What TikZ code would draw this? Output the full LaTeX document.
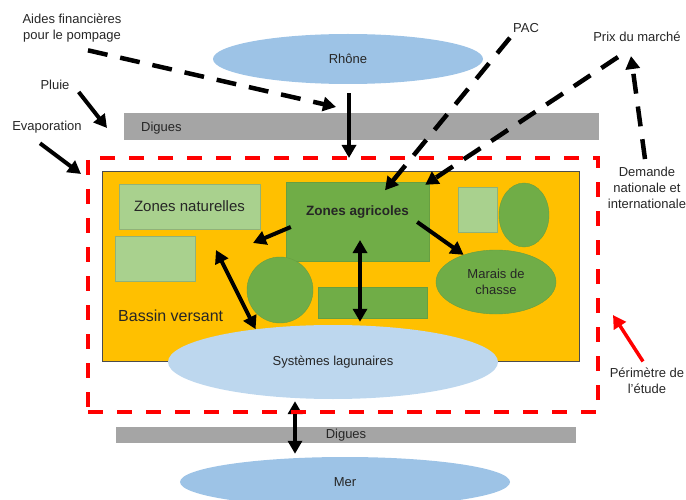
\documentclass[tikz,border=0pt]{standalone}
\usepackage{fontspec}
\setmainfont{Liberation Sans}
\usetikzlibrary{arrows.meta,shapes.geometric}

\definecolor{bleuEau}{HTML}{9DC3E6}
\definecolor{bleuLagune}{HTML}{BDD7EE}
\definecolor{grisDigue}{HTML}{A5A5A5}
\definecolor{jauneBassin}{HTML}{FFC000}
\definecolor{vertClair}{HTML}{A9D18E}
\definecolor{vertFonce}{HTML}{70AD47}
\definecolor{texte}{HTML}{262626}

\begin{document}
\begin{tikzpicture}[x=1pt,y=-1pt,
    font=\fontsize{13}{16}\selectfont,
    every node/.style={text=texte,inner sep=0pt,align=center},
    eau/.style={ellipse,fill=bleuEau},
    digue/.style={rectangle,fill=grisDigue},
    zone/.style={rectangle,fill=vertClair,draw=vertClair!85!black,thin},
    culture/.style={fill=vertFonce,draw=vertFonce!92!black,thin},
    fleche/.style={line width=4pt,-{Triangle[length=13pt,width=14pt]}},
    flecheDouble/.style={line width=4pt,{Triangle[length=13pt,width=14pt]}-{Triangle[length=13pt,width=14pt]}},
    tirets/.style={fleche,line width=4.5pt,dash pattern=on 20pt off 13pt},
    ]
    \useasboundingbox (0,0) rectangle (686,500);

    \node[digue,minimum width=475,minimum height=27] (digueHaut) at (361.5,126.5) {};
    \node[anchor=west] (digueHautTxt) at (141,128) {Digues};
    \node[eau,minimum width=270,minimum height=50] (rhone) at (348,59) {Rhône};

    \node[draw=black!70,line width=0.8pt,fill=jauneBassin,minimum width=477,minimum height=190] (bassin) at (340.5,266) {};
    \node[font=\fontsize{16}{19}\selectfont,anchor=west] (bassinTxt) at (118,316) {Bassin versant};

    \node[zone,minimum width=141,minimum height=45,font=\fontsize{15}{18}\selectfont] (naturelles) at (189.5,206.5) {Zones naturelles};
    \node[zone,minimum width=80,minimum height=45] (naturelles2) at (155,258.5) {};
    \node[zone,minimum width=39,minimum height=45] (naturelles3) at (477.5,209.5) {};
    \node[culture,rectangle,minimum width=143,minimum height=79,font=\fontsize{13.5}{16}\selectfont\bfseries] (agricoles) at (357.5,221.5) {Zones agricoles\\[6pt]};
    \node[culture,rectangle,minimum width=109,minimum height=31] (agricoles2) at (372.5,302.5) {};
    \node[culture,circle,minimum size=66] (rond) at (280,290) {};
    \node[culture,ellipse,minimum width=50,minimum height=64] (ovale) at (524,215) {};
    \node[culture,ellipse,minimum width=120,minimum height=64] (marais) at (496,282) {Marais de\\chasse};

    \node[eau,fill=bleuLagune,minimum width=330,minimum height=74] (lagunaires) at (333,362) {Systèmes lagunaires};

    \node[digue,minimum width=460,minimum height=16] (digueBas) at (346,435) {Digues};
    \node[eau,minimum width=330,minimum height=50] (mer) at (345,482) {Mer};

    \node (aides) at (72,28) {Aides financières\\pour le pompage};
    \node (pluie) at (55,85) {Pluie};
    \node (evap) at (47,127) {Evaporation};
    \node (pac) at (526,28) {PAC};
    \node (prix) at (637,37) {Prix du marché};
    \node (demande) at (647,188) {Demande\\nationale et\\internationale};
    \node (perimetre) at (647,380.5) {Périmètre de\\l'étude};

    \draw[flecheDouble] ([shift={(-38,2)}]lagunaires.south) -- ([shift={(-50,-3)}]mer.north);

    \node[draw=red,line width=4pt,dash pattern=on 15pt off 14pt,minimum width=510,minimum height=254] (etude) at (343,285) {};

    \coordinate (aidesFin) at (336,107);
    \coordinate (pluieFin) at (107,128);
    \coordinate (evapFin) at (81,174);
    \coordinate (versNaturelles) at (253,243);
    \coordinate (bvHaut) at (216,250);
    \coordinate (rougeFin) at (613,315);

    \draw[tirets] ([shift={(16,8)}]aides.south) -- (aidesFin);
    \draw[fleche] ([shift={(9,2)}]pluie.south east) -- (pluieFin);
    \draw[fleche] ([shift={(-7,10)}]evap.south) -- (evapFin);
    \draw[fleche] ([shift={(1,9)}]rhone.south) -- ([shift={(6,2)}]etude.north);
    \draw[tirets] ([shift={(-3,5)}]pac.south west) -- ([shift={(27.5,8.5)}]agricoles.north);
    \draw[tirets] ([shift={(-19,15)}]prix.south) -- ([shift={(-4,3)}]agricoles.north east);
    \draw[tirets] ([shift={(-2,-8)}]demande.north) -- ([shift={(-6,14)}]prix.south);

    \draw[fleche] ([shift={(5,5.5)}]agricoles.west) -- (versNaturelles);
    \draw[flecheDouble] (bvHaut) -- (lagunaires.157);
    \draw[flecheDouble] ([shift={(2.5,18.5)}]agricoles.center) -- ([shift={(27,-3)}]lagunaires.north);
    \draw[fleche] ([shift={(-12,0.5)}]agricoles.east) -- (marais.140);

    \draw[fleche,red,line width=3.5pt] ([shift={(-4,-6)}]perimetre.north) -- (rougeFin);
\end{tikzpicture}
\end{document}
